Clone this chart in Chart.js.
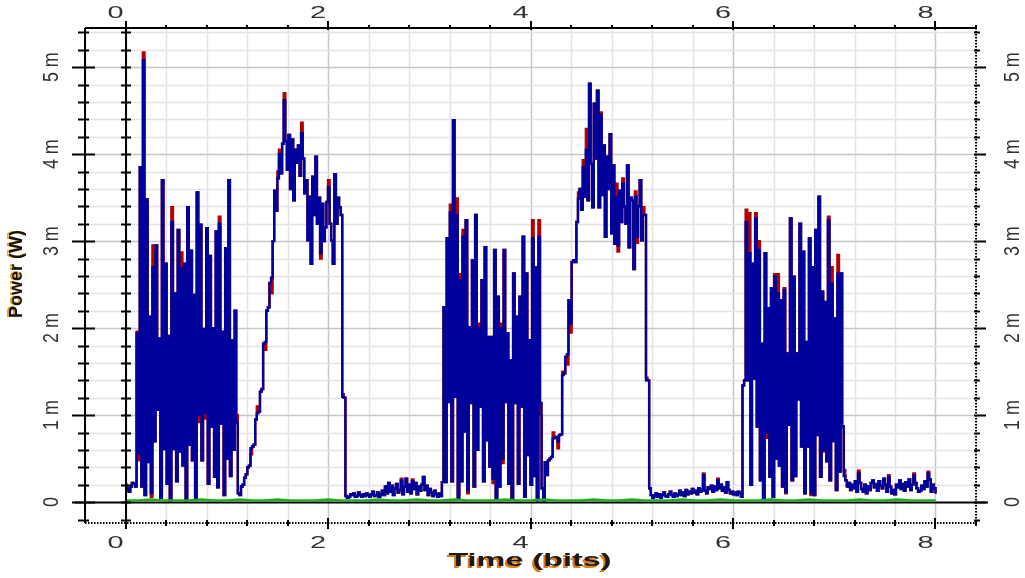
<!DOCTYPE html>
<html>
<head>
<meta charset="utf-8">
<script src="https://cdn.jsdelivr.net/npm/chart.js@4.4.1/dist/chart.umd.min.js"></script>
<style>
  html, body { margin: 0; padding: 0; background: #fff; }
  canvas { display: block; }
</style>
</head>
<body>
<canvas id="scope" width="1025" height="578"></canvas>
<script>
// Oscilloscope trace, power in mW, 64 samples per bit, 8 bits
const samplesPerBit = 64;

const blueW = [
  // 0 .. 0.1 bit
  0.14, 0.16, 0.12, 0.18, 0.22, 0.21, 0.18,
  // bit 1 burst
  1.94, 0.56, 3.85, 0.18, 5.08, 0.08, 3.48, 0.46, 2.13, 0.10,
  2.70, 0.70, 2.95, 1.06, 1.88, 0.05, 3.70, 0.61, 2.74, 0.21,
  1.91, 0.02, 3.22, 0.61, 2.40, 0.24, 3.13, 0.58, 2.69, 0.42,
  2.74, 0.02, 3.39, 0.66, 2.89, 0.48, 2.38, 0.03, 3.56, 1.00,
  3.19, 0.48, 1.99, 1.02, 3.15, 0.21, 2.83, 0.87, 2.00, 0.29,
  3.11, 0.17, 3.20, 0.90, 1.96, 0.08, 2.92, 0.50, 3.70, 0.30,
  1.86, 0.60, 2.20, 0.91,
  0.10, 0.08, 0.18, 0.20, 0.28, 0.32,
  // bit 2 pulse
  0.40, 0.42, 0.62, 0.64, 0.66, 0.95, 1.02, 1.04, 1.27, 1.30,
  1.82, 1.84, 2.20, 2.24, 2.52, 2.58, 3.00, 3.58, 3.35, 3.72,
  4.00, 3.78, 4.12, 4.62, 4.15, 3.82, 4.22, 3.60, 4.17, 3.47,
  4.05, 3.90, 4.10, 3.75, 4.24, 3.95, 3.55, 3.70, 3.01, 3.51,
  2.74, 3.74, 3.30, 3.97, 3.20, 3.50, 2.86, 3.43, 3.00, 3.16,
  3.45, 3.62, 3.20, 3.01, 2.74, 3.77, 3.20, 3.50, 3.39, 3.30,
  1.21, 1.20,
  // bit 3 low
  0.07, 0.05, 0.06, 0.09, 0.08, 0.10, 0.06, 0.07, 0.11, 0.08,
  0.06, 0.09, 0.07, 0.10, 0.08, 0.06, 0.09, 0.12, 0.07, 0.08,
  0.11, 0.06, 0.09, 0.13, 0.08, 0.18, 0.10, 0.22, 0.12, 0.19,
  0.08, 0.16, 0.21, 0.11, 0.14, 0.25, 0.09, 0.18, 0.27, 0.12,
  0.20, 0.10, 0.24, 0.15, 0.22, 0.09, 0.18, 0.13, 0.20, 0.29,
  0.14, 0.19, 0.08, 0.15, 0.11, 0.07, 0.13, 0.09, 0.06, 0.10,
  0.07, 0.23,
  // bit 4 burst
  2.24, 0.23, 3.03, 1.15, 3.33, 0.24, 4.39, 1.21, 3.30, 0.05,
  2.55, 0.24, 3.05, 0.81, 3.24, 0.14, 2.01, 1.14, 2.78, 0.18,
  3.30, 0.60, 2.00, 1.10, 2.55, 0.24, 2.93, 0.71, 1.90, 0.41,
  1.90, 0.27, 2.90, 0.04, 2.36, 0.18, 2.00, 0.50, 2.90, 1.15,
  1.94, 0.21, 1.63, 0.03, 2.63, 1.14, 2.13, 0.21, 2.36, 1.10,
  3.05, 0.06, 2.63, 0.54, 1.86, 0.20, 3.03, 0.30, 2.70, 0.02,
  3.05, 1.14,
  0.16, 0.02, 0.46, 0.31, 0.48, 0.50, 0.52, 0.73, 0.74, 0.75,
  0.70, 0.77, 0.78,
  // bit 5 pulse
  1.46, 1.48, 1.67, 1.70, 2.32, 2.05, 2.76, 2.78, 2.76, 3.22,
  3.49, 3.60, 3.36, 3.85, 3.51, 4.05, 3.47, 4.81, 3.89, 3.39,
  4.58, 3.95, 4.73, 3.39, 4.45, 3.53, 4.10, 3.05, 3.97, 3.60,
  4.23, 3.09, 3.87, 2.97, 3.51, 2.95, 3.58, 3.22, 3.66, 3.40,
  3.20, 3.87, 2.93, 3.50, 3.47, 2.68, 3.51, 3.05, 3.40, 3.70,
  3.01, 3.30, 3.30, 1.40, 1.40,
  // bit 6 low
  0.16, 0.08, 0.05, 0.07, 0.10, 0.06, 0.09, 0.05, 0.08, 0.11,
  0.07, 0.06, 0.09, 0.12, 0.08, 0.06, 0.10, 0.07, 0.09, 0.13,
  0.08, 0.11, 0.07, 0.14, 0.09, 0.12, 0.10, 0.15, 0.11, 0.13,
  0.09, 0.16, 0.12, 0.14, 0.31, 0.13, 0.10, 0.17, 0.15, 0.19,
  0.12, 0.18, 0.14, 0.25, 0.16, 0.20, 0.13, 0.17, 0.11, 0.23,
  0.14, 0.10, 0.12, 0.09, 0.11, 0.08, 0.12, 0.10, 0.06,
  1.34, 1.40,
  // bit 7 burst
  3.22, 1.40, 2.86, 0.20, 2.74, 1.42, 3.26, 0.87, 2.90, 0.25,
  1.82, 0.05, 2.86, 0.80, 2.23, 0.29, 2.46, 0.06, 2.59, 0.50,
  2.40, 0.42, 2.32, 0.18, 2.44, 0.12, 1.71, 0.89, 3.26, 0.25,
  2.59, 0.30, 1.71, 1.18, 3.20, 0.64, 2.88, 0.10, 1.84, 0.64,
  3.03, 0.10, 2.70, 0.08, 3.13, 0.77, 3.51, 0.29, 2.42, 0.60,
  2.30, 0.47, 3.24, 0.25, 2.51, 0.70, 2.11, 0.14, 2.63, 0.35,
  2.63, 0.87,
  // bit 8 low
  0.30, 0.25, 0.18, 0.22, 0.14, 0.20, 0.16, 0.24, 0.12, 0.33,
  0.22, 0.15, 0.12, 0.20, 0.10, 0.18, 0.14, 0.22, 0.25, 0.17,
  0.21, 0.13, 0.24, 0.19, 0.16, 0.27, 0.20, 0.12, 0.29, 0.18,
  0.10, 0.14, 0.09, 0.20, 0.17, 0.25, 0.15, 0.21, 0.13, 0.23,
  0.18, 0.26, 0.14, 0.20, 0.31, 0.22, 0.16, 0.12, 0.13, 0.19,
  0.15, 0.24, 0.18, 0.33, 0.26, 0.12, 0.20, 0.16, 0.10
];

const redW = [
  0.20, 0.16, 0.12, 0.18, 0.22, 0.21, 0.18,
  1.96, 0.48, 3.85, 0.18, 5.17, 0.08, 3.48, 0.46, 2.13, 0.06,
  2.95, 0.70, 2.95, 1.06, 1.88, 0.05, 3.70, 0.61, 2.74, 0.21,
  1.91, 0.02, 3.39, 0.61, 2.40, 0.24, 3.13, 0.58, 2.87, 0.42,
  2.74, 0.02, 3.39, 0.66, 2.89, 0.48, 2.38, 0.03, 3.56, 0.92,
  3.19, 0.48, 1.99, 0.96, 3.15, 0.21, 2.83, 0.87, 2.00, 0.29,
  3.11, 0.17, 3.28, 0.90, 1.96, 0.08, 2.92, 0.50, 3.70, 0.30,
  1.86, 0.60, 2.20, 1.00,
  0.10, 0.08, 0.18, 0.20, 0.28, 0.32,
  0.40, 0.42, 0.55, 0.64, 0.66, 0.95, 1.10, 1.04, 1.27, 1.30,
  1.82, 1.75, 2.20, 2.24, 2.52, 2.40, 3.00, 3.58, 3.35, 3.80,
  4.05, 3.78, 4.12, 4.70, 4.15, 3.82, 4.22, 3.60, 4.17, 3.47,
  4.05, 3.90, 4.10, 3.75, 4.36, 3.95, 3.55, 3.70, 3.01, 3.51,
  2.74, 3.74, 3.30, 3.97, 3.20, 3.50, 2.80, 3.43, 3.00, 3.16,
  3.45, 3.70, 3.20, 3.01, 2.74, 3.77, 3.20, 3.50, 3.39, 3.30,
  1.24, 1.20,
  0.07, 0.05, 0.06, 0.09, 0.08, 0.10, 0.06, 0.07, 0.11, 0.08,
  0.06, 0.09, 0.07, 0.10, 0.08, 0.06, 0.09, 0.12, 0.07, 0.08,
  0.11, 0.06, 0.09, 0.13, 0.08, 0.18, 0.10, 0.22, 0.12, 0.19,
  0.08, 0.16, 0.21, 0.11, 0.14, 0.27, 0.09, 0.18, 0.27, 0.12,
  0.20, 0.10, 0.26, 0.15, 0.22, 0.09, 0.18, 0.13, 0.20, 0.29,
  0.14, 0.19, 0.08, 0.15, 0.11, 0.07, 0.13, 0.09, 0.06, 0.10,
  0.07, 0.23,
  2.24, 0.23, 3.03, 1.15, 3.42, 0.24, 4.39, 1.21, 3.49, 0.05,
  2.62, 0.24, 3.13, 0.81, 3.24, 0.10, 2.01, 1.14, 2.78, 0.18,
  3.30, 0.60, 2.05, 1.10, 2.55, 0.24, 2.93, 0.71, 1.90, 0.41,
  1.90, 0.22, 2.90, 0.04, 2.36, 0.18, 2.05, 0.45, 2.90, 1.15,
  1.94, 0.21, 1.63, 0.03, 2.63, 1.14, 2.13, 0.21, 2.36, 1.10,
  3.05, 0.06, 2.63, 0.54, 1.86, 0.20, 3.24, 0.30, 2.70, 0.02,
  3.24, 1.00,
  0.16, 0.02, 0.46, 0.31, 0.48, 0.50, 0.52, 0.80, 0.74, 0.75,
  0.62, 0.77, 0.78,
  1.50, 1.48, 1.67, 1.58, 2.32, 1.95, 2.76, 2.78, 2.76, 3.22,
  3.56, 3.60, 3.36, 3.93, 3.51, 4.29, 3.47, 4.81, 3.89, 3.39,
  4.58, 3.95, 4.73, 3.39, 4.48, 3.53, 4.10, 3.05, 3.97, 3.60,
  4.23, 3.09, 3.87, 2.97, 3.66, 2.88, 3.58, 3.22, 3.72, 3.40,
  3.20, 3.87, 2.93, 3.50, 3.47, 2.68, 3.57, 2.98, 3.40, 3.70,
  3.01, 3.39, 3.30, 1.43, 1.40,
  0.16, 0.08, 0.05, 0.07, 0.10, 0.06, 0.09, 0.05, 0.08, 0.11,
  0.07, 0.06, 0.09, 0.12, 0.08, 0.06, 0.10, 0.07, 0.09, 0.13,
  0.08, 0.11, 0.07, 0.14, 0.09, 0.12, 0.10, 0.15, 0.11, 0.13,
  0.09, 0.16, 0.12, 0.14, 0.33, 0.13, 0.10, 0.17, 0.15, 0.19,
  0.12, 0.18, 0.14, 0.27, 0.16, 0.20, 0.13, 0.17, 0.11, 0.23,
  0.14, 0.10, 0.12, 0.09, 0.11, 0.08, 0.12, 0.10, 0.06,
  1.34, 1.40,
  3.36, 1.40, 3.32, 0.20, 2.74, 1.42, 3.32, 0.87, 3.00, 0.25,
  1.82, 0.05, 2.86, 0.74, 2.23, 0.29, 2.46, 0.06, 2.62, 0.50,
  2.62, 0.42, 2.32, 0.18, 2.46, 0.10, 1.71, 0.89, 3.26, 0.25,
  2.59, 0.30, 1.71, 1.23, 3.20, 0.64, 2.88, 0.10, 1.84, 0.64,
  3.03, 0.08, 2.70, 0.08, 3.13, 0.77, 3.51, 0.29, 2.42, 0.58,
  2.30, 0.47, 3.28, 0.25, 2.70, 0.73, 2.11, 0.14, 2.84, 0.35,
  2.63, 0.87,
  0.37, 0.25, 0.18, 0.22, 0.14, 0.20, 0.16, 0.24, 0.12, 0.36,
  0.22, 0.15, 0.12, 0.20, 0.10, 0.18, 0.14, 0.22, 0.25, 0.17,
  0.21, 0.13, 0.24, 0.19, 0.16, 0.27, 0.20, 0.12, 0.31, 0.18,
  0.10, 0.14, 0.09, 0.20, 0.17, 0.25, 0.15, 0.21, 0.13, 0.23,
  0.18, 0.26, 0.14, 0.20, 0.33, 0.22, 0.16, 0.12, 0.13, 0.19,
  0.15, 0.24, 0.18, 0.35, 0.26, 0.12, 0.20, 0.16, 0.10
];

// green trace, 8 samples per bit
const greenPerBit = 8;
const greenW = [
  0.02, 0.02, 0.03, 0.02, 0.02, 0.02, 0.03, 0.02,
  0.02, 0.03, 0.02, 0.02, 0.03, 0.02, 0.02, 0.02,
  0.03, 0.02, 0.02, 0.02, 0.03, 0.02, 0.02, 0.03,
  0.02, 0.02, 0.03, 0.02, 0.02, 0.02, 0.03, 0.02,
  0.02, 0.03, 0.02, 0.02, 0.02, 0.03, 0.02, 0.02,
  0.03, 0.02, 0.02, 0.02, 0.03, 0.02, 0.02, 0.03,
  0.02, 0.02, 0.02, 0.03, 0.02, 0.02, 0.03, 0.02,
  0.02, 0.02, 0.03, 0.02, 0.02, 0.03, 0.02, 0.02,
  0.02
];

const xTicks = [0, 2, 4, 6, 8];
const yTicks = [0, 1, 2, 3, 4, 5];
const yTickLabels = ['0', '1 m', '2 m', '3 m', '4 m', '5 m'];

function toPoints(values, perBit) {
  return values.map((v, i) => ({ x: i / perBit, y: v }));
}

function drawText(ctx, str, cx, cy, font, color, angle, sx, sy) {
  ctx.save();
  ctx.translate(cx, cy);
  ctx.rotate(angle);
  ctx.scale(sx, sy);
  ctx.font = font;
  ctx.fillStyle = color;
  ctx.textAlign = 'center';
  ctx.textBaseline = 'middle';
  ctx.fillText(str, 0, 0);
  ctx.restore();
}

const scopeFrame = {
  id: 'scopeFrame',
  beforeDatasetsDraw(chart) {
    const { ctx, chartArea: a, scales: { x, y } } = chart;
    ctx.save();
    ctx.lineWidth = 1.5;
    // vertical grid every 0.4 bit
    for (let k = -1; k <= 21; k++) {
      const px = Math.round(x.getPixelForValue(k * 0.4)) + 0.5;
      ctx.strokeStyle = k % 5 === 0 ? '#c6c6c6' : '#e4e4e4';
      ctx.beginPath();
      ctx.moveTo(px, a.top);
      ctx.lineTo(px, a.bottom);
      ctx.stroke();
    }
    // horizontal grid every 0.2 m
    for (let k = 1; k <= 27; k++) {
      const py = Math.round(y.getPixelForValue(k * 0.2)) + 0.5;
      ctx.strokeStyle = k % 5 === 0 ? '#c6c6c6' : '#e4e4e4';
      ctx.beginPath();
      ctx.moveTo(a.left, py);
      ctx.lineTo(a.right, py);
      ctx.stroke();
    }
    // zero line
    const y0 = Math.round(y.getPixelForValue(0)) + 0.5;
    ctx.strokeStyle = '#000';
    ctx.lineWidth = 2;
    ctx.beginPath();
    ctx.moveTo(a.left - 10, y0);
    ctx.lineTo(a.right + 12, y0);
    ctx.stroke();
    ctx.restore();
  },
  afterDatasetsDraw(chart) {
    const { ctx, chartArea: a, scales: { x, y } } = chart;
    ctx.save();
    ctx.strokeStyle = '#000';
    ctx.lineWidth = 2;

    const line = (x1, y1, x2, y2) => {
      ctx.beginPath();
      ctx.moveTo(x1, y1);
      ctx.lineTo(x2, y2);
      ctx.stroke();
    };

    // left frame and inner x = 0 axis
    const x0 = Math.round(x.getPixelForValue(0));
    line(a.left, a.top, a.left, a.bottom);
    line(x0, a.top - 6, x0, a.bottom + 5);
    for (let k = -1; k <= 27; k++) {
      const py = Math.round(y.getPixelForValue(k * 0.2)) + 0.5;
      if (k % 5 === 0) line(a.left - 13, py, a.left + 10, py);
      else line(a.left - 7, py, a.left + 4, py);
      line(x0 - 5, py, x0 + 5, py);
    }

    // top frame
    line(a.left, a.top, a.right, a.top);
    for (let k = 0; k <= 21; k++) {
      const px = Math.round(x.getPixelForValue(k * 0.4));
      if (k % 5 === 0) line(px, a.top - 7, px, a.top + 2);
      else line(px, a.top - 3, px, a.top);
    }

    // bottom and right frames, dotted
    ctx.setLineDash([1.5, 1.5]);
    line(a.left, a.bottom, a.right, a.bottom);
    line(a.right, a.top, a.right, a.bottom);
    ctx.setLineDash([]);
    for (let k = 0; k <= 21; k++) {
      const px = Math.round(x.getPixelForValue(k * 0.4));
      if (k % 5 === 0) line(px, a.bottom - 5, px, a.bottom + 6);
      else line(px, a.bottom - 3, px, a.bottom + 3);
    }
    for (let k = -1; k <= 27; k++) {
      const py = Math.round(y.getPixelForValue(k * 0.2)) + 0.5;
      if (k % 5 === 0) line(a.right - 2, py, a.right + 10, py);
      else line(a.right - 2, py, a.right + 4, py);
    }

    // tick labels
    const tickFont = '17px "Liberation Sans", Arial, sans-serif';
    xTicks.forEach(v => {
      const px = x.getPixelForValue(v) - 10;
      drawText(ctx, String(v), px, 13, tickFont, '#333', 0, 1.7, 1);
      drawText(ctx, String(v), px, 543, tickFont, '#333', 0, 1.7, 1);
    });
    yTicks.forEach((v, i) => {
      const py = y.getPixelForValue(v);
      drawText(ctx, yTickLabels[i], 52, py, tickFont, '#333', -Math.PI / 2, 1.05, 1.3);
      drawText(ctx, yTickLabels[i], 1013, py, tickFont, '#333', -Math.PI / 2, 1.05, 1.3);
    });

    // axis titles
    const titleFont = 'bold 18px "Liberation Sans", Arial, sans-serif';
    drawText(ctx, 'Time (bits)', 528, 563, titleFont, '#e07a10', 0, 1.8, 1);
    drawText(ctx, 'Time (bits)', 530, 561.5, titleFont, '#1a1a1a', 0, 1.8, 1);
    drawText(ctx, 'Power (W)', 14.5, 274, titleFont, '#e0a010', -Math.PI / 2, 1, 1.05);
    drawText(ctx, 'Power (W)', 16.5, 274, titleFont, '#111', -Math.PI / 2, 1, 1.05);
    ctx.restore();
  }
};

new Chart(document.getElementById('scope'), {
  type: 'line',
  data: {
    datasets: [
      { label: 'green', data: toPoints(greenW, greenPerBit), borderColor: '#18b018', borderWidth: 2.4, order: 0 },
      { label: 'blue', data: toPoints(blueW, samplesPerBit), borderColor: '#00009a', borderWidth: 2.4, stepped: true, order: 1 },
      { label: 'red', data: toPoints(redW, samplesPerBit), borderColor: '#b40000', borderWidth: 2.4, stepped: true, order: 2 }
    ]
  },
  options: {
    responsive: false,
    animation: false,
    devicePixelRatio: 1,
    events: [],
    elements: {
      point: { radius: 0 },
      line: { tension: 0 }
    },
    layout: { padding: { left: 85, right: 49, top: 28, bottom: 55 } },
    scales: {
      x: { type: 'linear', min: -0.4, max: 8.4, display: false },
      y: { type: 'linear', min: -0.24, max: 5.45, display: false }
    },
    plugins: {
      legend: { display: false },
      tooltip: { enabled: false }
    }
  },
  plugins: [scopeFrame]
});
</script>
</body>
</html>
